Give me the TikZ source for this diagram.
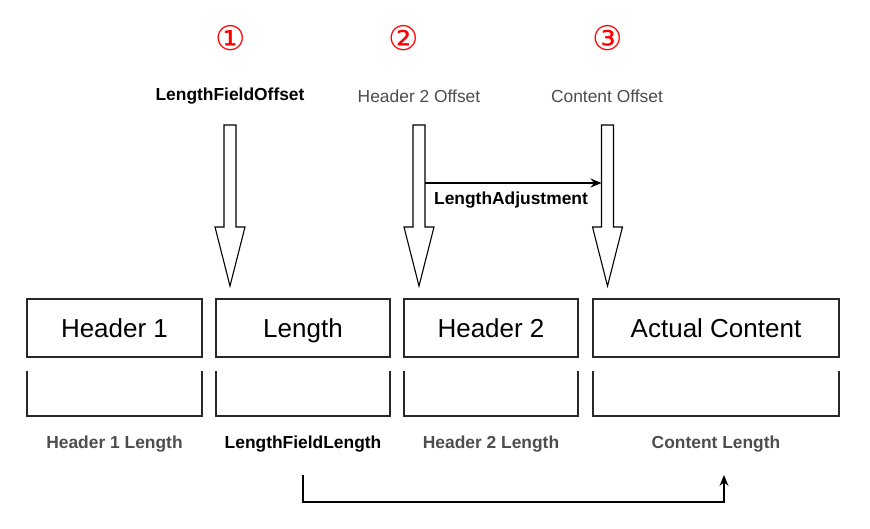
\documentclass[tikz,border=0pt]{standalone}
\usepackage{fontspec}
\setmainfont{Liberation Sans}
\newfontfamily\circfont{DejaVu Sans}
\usetikzlibrary{arrows.meta}
\definecolor{lblgray}{RGB}{77,77,77}
\definecolor{numred}{RGB}{255,0,0}
\definecolor{boxline}{RGB}{40,40,40}
\begin{document}
\begin{tikzpicture}[x=1pt,y=-1pt,
  field/.style={draw=boxline,line width=1.2pt,minimum height=58pt,inner sep=0pt,text height=18.7pt,text depth=0pt,font=\fontsize{26}{30}\selectfont},
  bracket/.style={draw=boxline,line width=1.2pt},
  lenlbl/.style={font=\fontsize{17.4}{20}\selectfont\bfseries,text=lblgray},
  keylbl/.style={font=\fontsize{17.4}{20}\selectfont\bfseries,text=black},
  offlbl/.style={font=\fontsize{17.4}{20}\selectfont,text=lblgray},
  circnum/.style={font=\fontsize{34}{38}\circfont,text=numred},
  blockarrow/.style={draw=black,line width=1.1pt,fill=white,line join=miter},
  conn/.style={draw=black,line width=1.1pt,-{Stealth[length=11pt,width=9pt]}}
]
\useasboundingbox (0,0) rectangle (870,528);
% fields
\node[field,minimum width=175pt] (h1) at (114.5,328) {Header 1};
\node[field,minimum width=174pt] (len) at (303,328) {Length};
\node[field,minimum width=174pt] (h2) at (491,328) {Header 2};
\node[field,minimum width=246pt] (ac) at (716,328) {Actual Content};
% brackets
\draw[bracket] (27,371) -- (27,416) -- (202,416) -- (202,371);
\draw[bracket] (216,371) -- (216,416) -- (390,416) -- (390,371);
\draw[bracket] (404,371) -- (404,416) -- (578,416) -- (578,371);
\draw[bracket] (593,371) -- (593,416) -- (839,416) -- (839,371);
% length labels
\node[lenlbl] (l1) at (114.5,444) {Header 1 Length};
\node[keylbl] (l2) at (303,444) {LengthFieldLength};
\node[lenlbl] (l3) at (491,444) {Header 2 Length};
\node[lenlbl] (l4) at (716,444) {Content Length};
% circled numbers
\node[circnum] (n1) at (231,38) {①};
\node[circnum] (n2) at (404,38) {②};
\node[circnum] (n3) at (608,38) {③};
% offset labels
\node[keylbl] (o1) at (230,96) {LengthFieldOffset};
\node[offlbl] (o2) at (419,96) {Header 2 Offset};
\node[offlbl] (o3) at (607,96) {Content Offset};
% block arrows
\foreach \cx/\nm in {230/a1,419/a2,607.5/a3}{
  \draw[blockarrow] (\cx-6,125) -- (\cx+6,125) -- (\cx+6,227) -- (\cx+15,227)
     -- (\cx,286) -- (\cx-15,227) -- (\cx-6,227) -- cycle;
  \coordinate (\nm L) at (\cx-6,183);
  \coordinate (\nm R) at (\cx+6,183);
}
% length adjustment
\draw[conn] (a2R) -- (a3L);
\node[keylbl] (adj) at (511,200) {LengthAdjustment};
% bottom connector
\coordinate (bs) at (303,475);
\coordinate (be) at (724,475);
\draw[conn] (bs) -- (303,502) -- (724,502) -- (be);
\end{tikzpicture}
\end{document}
